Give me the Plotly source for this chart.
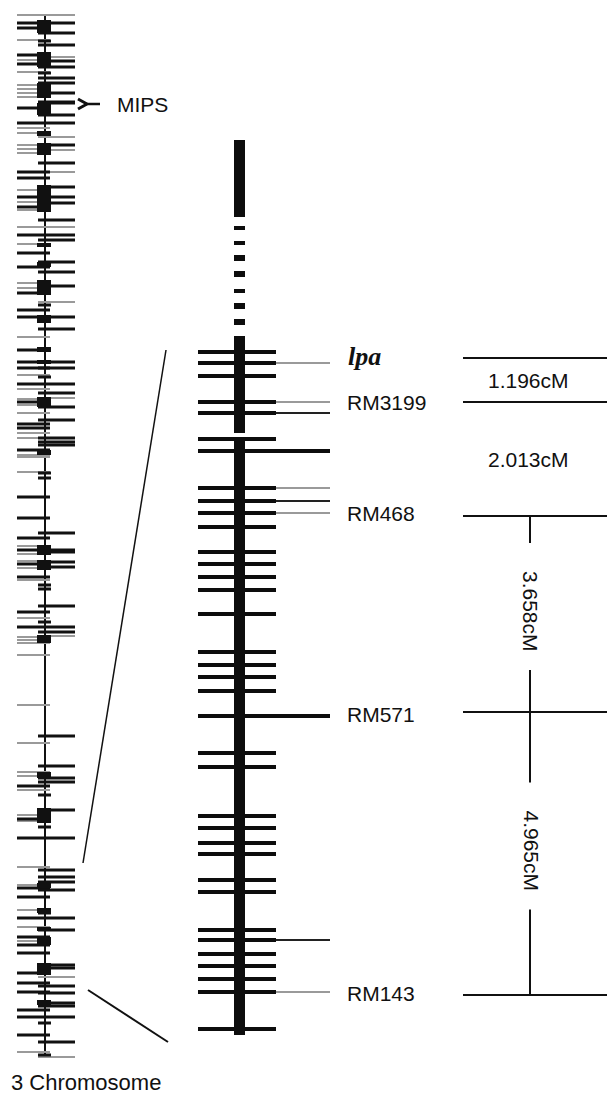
import plotly.graph_objects as go

W, H = 607, 1098

# ---------------- data ----------------
# Chromosome 3 overview: band positions (y), side of the centre line, tone
chr3_band_y = [15, 23, 28, 33, 40, 41, 45, 55, 60, 64, 57, 61, 67, 72, 73, 78, 85, 89, 93, 97,
               83, 93, 102, 108, 103, 115, 123, 128, 133, 137, 145, 149, 153, 145, 150, 163,
               172, 172, 178, 190, 197, 202, 207, 210, 187, 197, 203, 220, 227, 235, 240, 244,
               253, 262, 267, 272, 283, 288, 293, 286, 302, 305, 310, 317, 317, 329, 337,
               350, 362, 368, 368, 375, 377, 384, 389, 393, 399, 402, 405, 398, 407, 413, 420,
               424, 428, 433, 438, 438, 442, 445, 450, 455, 457, 472, 473, 478, 497, 518, 533,
               538, 546, 550, 554, 550, 552, 561, 564, 568, 562, 567, 577, 580, 585, 589, 606,
               612, 618, 622, 627, 632, 637, 640, 643, 636, 655,
               705, 736, 743, 766, 772, 776, 778, 782, 786, 790, 795, 810, 815, 819, 821, 827,
               838, 867, 870, 877, 882, 885, 888, 890, 897, 910, 913, 918, 927, 930, 937, 941,
               945, 953, 965, 968, 973, 977, 983, 986, 992, 993, 1003, 1006, 1010, 1017, 1023,
               1035, 1042, 1052, 1055, 1057]
chr3_band_side = ["B", "B", "L", "R", "L", "S", "R", "L", "L", "L", "R", "R", "R", "L", "S", "R", "L", "L", "L", "L",
                  "R", "R", "R", "L", "R", "R", "B", "L", "L", "R", "L", "L", "L", "R", "R", "R",
                  "L", "R", "L", "L", "L", "L", "L", "L", "R", "R", "R", "R", "B", "B", "R", "L",
                  "L", "R", "L", "R", "L", "L", "L", "R", "R", "S", "L", "L", "R", "R", "L",
                  "L", "B", "L", "R", "L", "S", "B", "L", "R", "L", "L", "L", "R", "R", "L", "R",
                  "L", "L", "L", "L", "R", "R", "R", "L", "L", "L", "L", "S", "S", "L", "L", "R",
                  "L", "L", "L", "L", "R", "R", "L", "L", "L", "R", "R", "L", "L", "S", "S", "R",
                  "L", "L", "S", "B", "R", "L", "L", "L", "R", "L",
                  "L", "R", "L", "R", "L", "L", "R", "R", "L", "L", "S", "R", "L", "L", "L", "S",
                  "B", "L", "R", "R", "R", "L", "L", "R", "L", "L", "S", "B", "L", "R", "L", "L",
                  "L", "L", "R", "R", "L", "R", "L", "R", "L", "R", "R", "R", "L", "B", "S",
                  "L", "R", "L", "S", "R"]
chr3_band_tone = ["g", "k", "k", "k", "g", "k", "k", "k", "g", "k", "g", "k", "k", "g", "k", "k", "g", "g", "g", "g",
                  "k", "k", "k", "k", "k", "k", "k", "g", "g", "g", "g", "g", "g", "k", "g", "k",
                  "k", "g", "k", "g", "k", "g", "k", "g", "k", "k", "k", "k", "g", "k", "k", "g",
                  "k", "k", "k", "k", "g", "g", "k", "k", "g", "k", "k", "k", "k", "k", "g",
                  "k", "k", "k", "k", "g", "k", "k", "g", "k", "g", "k", "g", "g", "k", "g", "k",
                  "k", "k", "g", "g", "k", "k", "k", "k", "g", "g", "g", "k", "k", "k", "k", "k",
                  "k", "g", "k", "g", "k", "k", "g", "k", "g", "k", "k", "k", "g", "k", "k", "k",
                  "k", "g", "k", "k", "k", "g", "g", "g", "g", "g",
                  "g", "k", "g", "k", "g", "g", "k", "k", "k", "g", "k", "k", "g", "k", "g", "k",
                  "k", "g", "k", "k", "k", "g", "k", "k", "k", "g", "k", "k", "g", "k", "k", "g",
                  "k", "k", "k", "k", "k", "g", "k", "k", "k", "k", "k", "k", "k", "k", "k",
                  "k", "k", "g", "k", "g"]
chr3_block_top = [20, 52, 83, 103, 131, 143, 185, 243, 262, 280, 315, 347, 360, 397, 450,
                  545, 560, 635, 772, 808, 883, 908, 927, 937, 963, 1000]
chr3_block_bottom = [33, 67, 98, 115, 136, 155, 212, 247, 267, 295, 323, 352, 364, 407, 455,
                     555, 570, 643, 778, 823, 888, 913, 931, 945, 975, 1005]
chr3_extent = [15, 1058]
mips_y = 104

# Zoomed region of the chromosome
zoom_source = [863, 990]
zoom_target = [350, 1042]
zoom_bar_top = [140, 336, 438]
zoom_bar_bottom = [217, 433, 1035]
zoom_dash_y = [228, 243, 258, 274, 291, 306, 322]
zoom_dash_h = [4, 4, 6, 6, 4, 6, 6]
zoom_marker_y = [352, 363, 376, 402, 413, 439, 451, 488, 501, 513, 527, 552, 564, 577, 590,
                 614, 652, 665, 677, 691, 716, 753, 767, 816, 828, 843, 854, 880, 892, 930,
                 940, 954, 966, 979, 992, 1029]
zoom_marker_ext = ["", "g", "", "g", "k", "", "K", "g", "k", "g", "", "", "", "", "",
                   "", "", "", "", "", "K", "", "", "", "", "", "", "", "", "",
                   "k", "", "", "", "g", ""]

# Markers and genetic map
marker_names = ["lpa", "RM3199", "RM468", "RM571", "RM143"]
marker_label_y = [358, 402, 513, 714, 993]
map_line_y = [358, 402, 516, 712, 995]
interval_labels = ["1.196cM", "2.013cM", "3.658cM", "4.965cM"]
interval_vertical = [False, False, True, True]

# ---------------- layout constants ----------------
CHR_X = 45
SIDE_X = {"L": (17, 50), "R": (38, 75), "B": (17, 75), "S": (38, 51)}
BLOCK_X = (37, 51)
ZB_X = (234, 245)
MK_X = (198, 276)
EXT_X = 330
LABEL_X = 345
MAP_X = (463, 607)
INT_X = 531
FONT = "Liberation Sans, Arial, sans-serif"


def segments(x0s, x1s, y0s, y1s):
    xs, ys = [], []
    for a, b, c, d in zip(x0s, x1s, y0s, y1s):
        xs += [a, b, None]
        ys += [c, d, None]
    return xs, ys


def rects(x0s, x1s, y0s, y1s):
    xs, ys = [], []
    for a, b, c, d in zip(x0s, x1s, y0s, y1s):
        xs += [a, b, b, a, a, None]
        ys += [c, c, d, d, c, None]
    return xs, ys


fig = go.Figure()


def add_lines(xs, ys, color, width):
    fig.add_trace(go.Scatter(x=xs, y=ys, mode="lines", line=dict(color=color, width=width),
                             hoverinfo="skip", showlegend=False))


def add_fill(xs, ys, color):
    fig.add_trace(go.Scatter(x=xs, y=ys, mode="lines", fill="toself", fillcolor=color,
                             line=dict(color=color, width=0), hoverinfo="skip", showlegend=False))


# chromosome 3 overview
add_lines([CHR_X, CHR_X], chr3_extent, "#111", 2)
for tone, color, width in (("g", "#9a9a9a", 2), ("k", "#111111", 3)):
    sel = [i for i, t in enumerate(chr3_band_tone) if t == tone]
    xs, ys = segments([SIDE_X[chr3_band_side[i]][0] for i in sel],
                      [SIDE_X[chr3_band_side[i]][1] for i in sel],
                      [chr3_band_y[i] for i in sel], [chr3_band_y[i] for i in sel])
    add_lines(xs, ys, color, width)
xs, ys = rects([BLOCK_X[0]] * len(chr3_block_top), [BLOCK_X[1]] * len(chr3_block_top),
               chr3_block_top, chr3_block_bottom)
add_fill(xs, ys, "#111111")

# MIPS arrow
add_lines([78, 87, 78], [mips_y - 5, mips_y, mips_y + 5], "#111", 3)
add_lines([84, 100], [mips_y, mips_y], "#111", 2.5)

# connectors
add_lines([83, 166], [zoom_source[0], zoom_target[0]], "#111", 1.5)
add_lines([88, 168], [zoom_source[1], zoom_target[1]], "#111", 2)

# zoomed chromosome: marker lines
xs, ys = segments([MK_X[0]] * len(zoom_marker_y), [MK_X[1]] * len(zoom_marker_y),
                  zoom_marker_y, zoom_marker_y)
add_lines(xs, ys, "#0d0d0d", 4)
for kind, color, width in (("g", "#9a9a9a", 2), ("k", "#222222", 2), ("K", "#0d0d0d", 4)):
    sel = [y for y, e in zip(zoom_marker_y, zoom_marker_ext) if e == kind]
    xs, ys = segments([MK_X[1]] * len(sel), [EXT_X] * len(sel), sel, sel)
    add_lines(xs, ys, color, width)

# zoomed chromosome: bar
xs, ys = rects([ZB_X[0]] * 3, [ZB_X[1]] * 3, zoom_bar_top, zoom_bar_bottom)
add_fill(xs, ys, "#0d0d0d")
xs, ys = rects([ZB_X[0]] * len(zoom_dash_y), [ZB_X[1]] * len(zoom_dash_y),
               [y - h / 2 for y, h in zip(zoom_dash_y, zoom_dash_h)],
               [y + h / 2 for y, h in zip(zoom_dash_y, zoom_dash_h)])
add_fill(xs, ys, "#0d0d0d")

# genetic map lines
xs, ys = segments([MAP_X[0]] * len(map_line_y), [MAP_X[1]] * len(map_line_y), map_line_y, map_line_y)
add_lines(xs, ys, "#111", 2)

annotations = []
for name, y in zip(marker_names, marker_label_y):
    if name == "lpa":
        annotations.append(dict(x=LABEL_X + 1, y=y - 2, text="<b><i>lpa</i></b>", xanchor="left", yanchor="middle",
                                font=dict(family="Liberation Serif, Times New Roman, serif", size=26, color="#111")))
    else:
        annotations.append(dict(x=LABEL_X, y=y, text=name, xanchor="left", yanchor="middle",
                                font=dict(family=FONT, size=21, color="#111")))

half_len = 44
for lab, vert, ya, yb in zip(interval_labels, interval_vertical, map_line_y[:-1], map_line_y[1:]):
    mid = (ya + yb) / 2
    if vert:
        mid -= 3
        annotations.append(dict(x=INT_X, y=mid, text=lab, textangle=90, xanchor="center", yanchor="middle",
                                font=dict(family=FONT, size=21, color="#111")))
        add_lines([INT_X - 1, INT_X - 1], [ya, mid - half_len - 24], "#111", 2)
        add_lines([INT_X - 1, INT_X - 1], [mid + half_len + 15, yb], "#111", 2)
    else:
        annotations.append(dict(x=INT_X - 3, y=mid, text=lab, xanchor="center", yanchor="middle",
                                font=dict(family=FONT, size=21, color="#111")))

annotations.append(dict(x=115, y=mips_y, text="MIPS", xanchor="left", yanchor="middle",
                        font=dict(family=FONT, size=21, color="#111")))
annotations.append(dict(x=9, y=1082, text="3 Chromosome", xanchor="left", yanchor="middle",
                        font=dict(family=FONT, size=22, color="#111")))
for a in annotations:
    a.update(showarrow=False, xref="x", yref="y")

fig.update_layout(
    width=W, height=H, margin=dict(l=0, r=0, t=0, b=0),
    paper_bgcolor="white", plot_bgcolor="white",
    xaxis=dict(range=[0, W], visible=False, fixedrange=True),
    yaxis=dict(range=[H, 0], visible=False, fixedrange=True),
    annotations=annotations, showlegend=False,
)
fig.write_html("out.html", config={"displayModeBar": False},
               post_script="document.body.style.margin='0';document.body.style.overflow='hidden';")
